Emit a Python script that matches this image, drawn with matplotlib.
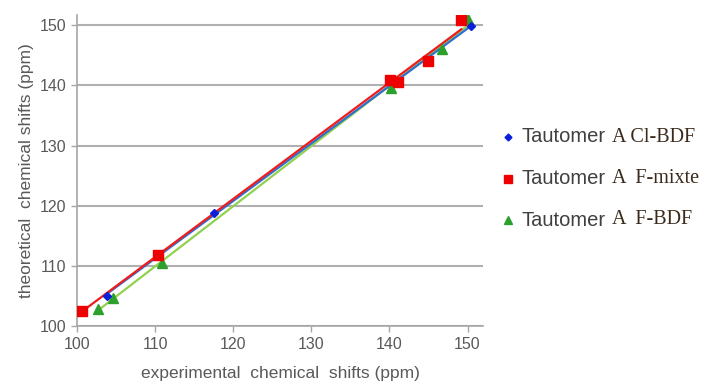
import numpy as np
import matplotlib
matplotlib.use("Agg")
import matplotlib.pyplot as plt
from matplotlib.lines import Line2D

# data (experimental, theoretical) in ppm
blue_x = [103.8, 117.6, 150.5]
blue_y = [105.1, 118.9, 149.8]
red_x = [100.6, 110.4, 140.1, 141.1, 144.9, 149.2]
red_y = [102.6, 111.9, 140.9, 140.6, 144.0, 150.8]
green_x = [102.7, 104.6, 110.9, 140.2, 146.7, 150.0]
green_y = [102.9, 104.7, 110.6, 139.5, 146.0, 151.0]

legend_main = ["Tautomer", "Tautomer", "Tautomer"]
legend_tail = ["A Cl-BDF", "A  F-mixte", "A  F-BDF"]

plt.rcParams["font.family"] = ["Liberation Sans", "DejaVu Sans"]
grey = "#595959"

fig = plt.figure(figsize=(7.19, 3.90), dpi=100)
ax = fig.add_axes([0.107, 0.163, 0.565, 0.799])

series = [
    (green_x, green_y, "#2ca02c", "#92d050", "^", 6.5),
    (blue_x, blue_y, "#0a1fd8", "#2f6fd0", "D", 4),
    (red_x, red_y, "#ee0000", "#ee1c1c", "s", 7.5),
]
# linear trend lines
for xs, ys, mc, lc, mk, ms in series:
    k, b = np.polyfit(xs, ys, 1)
    xx = np.array([min(xs), max(xs)])
    ax.plot(xx, k * xx + b, color=lc, lw=1.6, zorder=3)
for xs, ys, mc, lc, mk, ms in series:
    ax.plot(xs, ys, ls="none", marker=mk, ms=ms, color=mc, zorder=4)

ax.set_xlim(100, 152)
ax.set_ylim(100, 151.7)
ax.set_xticks(range(100, 151, 10))
ax.set_yticks(range(100, 151, 10))
ax.yaxis.grid(True, color="#b0b0b0", lw=1.5)
ax.set_axisbelow(True)
for s in ["top", "right"]:
    ax.spines[s].set_visible(False)
for s in ["left", "bottom"]:
    ax.spines[s].set_color("#a6a6a6")
    ax.spines[s].set_linewidth(1.2)
ax.tick_params(colors="#a6a6a6", labelcolor=grey, labelsize=11.5, length=4, width=1)

ax.set_xlabel("experimental  chemical  shifts (ppm)", fontsize=12.5, color=grey, labelpad=10)
ax.set_ylabel("theoretical  chemical shifts (ppm)", fontsize=12.5, color=grey, labelpad=4)

# legend built by hand (sans + serif parts)
rows_y = [1 - 137 / 390, 1 - 179 / 390, 1 - 220 / 390]
marks = [("D", "#0a1fd8", 3.5), ("s", "#ee0000", 6), ("^", "#2ca02c", 5.5)]
texts = []
for (mk, c, ms), y, main in zip(marks, rows_y, legend_main):
    fig.add_artist(Line2D([508 / 719], [y], marker=mk, color=c, ms=ms, ls="none",
                          transform=fig.transFigure))
    texts.append(fig.text(522 / 719, y, main, fontsize=14.5, color="#404040",
                          va="center", ha="left"))
fig.canvas.draw()
r = fig.canvas.get_renderer()
for t, tail, y in zip(texts, legend_tail, rows_y):
    bb = t.get_window_extent(r)
    fig.text(bb.x1 / 719 + 0.008, y, tail, fontsize=14.5, color="#3a2a1a",
             family="Liberation Serif", va="center", ha="left")

fig.savefig("out.png", dpi=100)
